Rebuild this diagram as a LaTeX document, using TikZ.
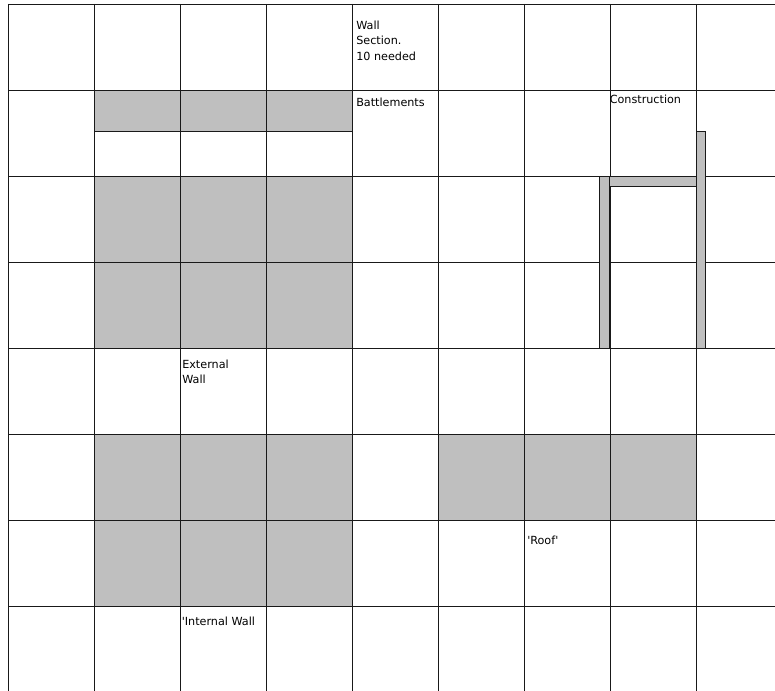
\documentclass[tikz,border=0pt]{standalone}
\usepackage{fontspec}
\setmainfont{DejaVu Sans}
\begin{document}
\begin{tikzpicture}[x=0.75pt,y=-0.75pt,
  gridline/.style={draw=black!90,line width=0.7pt},
  wallfill/.style={fill=gray!50!white,draw=black!90,line width=0.7pt},
  lbl/.style={anchor=north west,inner sep=0pt,align=left,font=\fontsize{8.4}{11.6}\selectfont}]
\useasboundingbox (0,0) rectangle (775,691);
\fill[white] (0,0) rectangle (775,691);
% gray wall sections
\foreach \x in {94,180,266}{
  \filldraw[wallfill] (\x,90) rectangle ++(86,41);
  \filldraw[wallfill] (\x,176) rectangle ++(86,86);
  \filldraw[wallfill] (\x,262) rectangle ++(86,86);
  \filldraw[wallfill] (\x,434) rectangle ++(86,86);
  \filldraw[wallfill] (\x,520) rectangle ++(86,86);
}
\foreach \x in {438,524,610}{
  \filldraw[wallfill] (\x,434) rectangle ++(86,86);
}
% grid
\foreach \x in {8,94,180,266,352,438,524,610,696}{
  \draw[gridline] (\x,4) -- (\x,691);
}
\foreach \y in {4,90,176,262,348,434,520,606}{
  \draw[gridline] (8,\y) -- (775,\y);
}
% construction frame
\filldraw[wallfill] (599,176) rectangle (609.5,348);
\filldraw[wallfill] (696,131) rectangle (705,348);
\filldraw[wallfill] (609.5,176) rectangle (696,186.5);
% labels
\node[lbl] (wall) at (356,20.5) {Wall\\Section.\\10 needed};
\node[lbl] (batt) at (356,97.5) {Battlements};
\node[lbl] (cons) at (609.5,94.5) {Construction};
\node[lbl] (ext) at (182,359.5) {External\\Wall};
\node[lbl] (int) at (181.5,617) {\textquotesingle Internal Wall};
\node[lbl] (roof) at (527,535.5) {\textquotesingle Roof\textquotesingle};
\end{tikzpicture}
\end{document}
